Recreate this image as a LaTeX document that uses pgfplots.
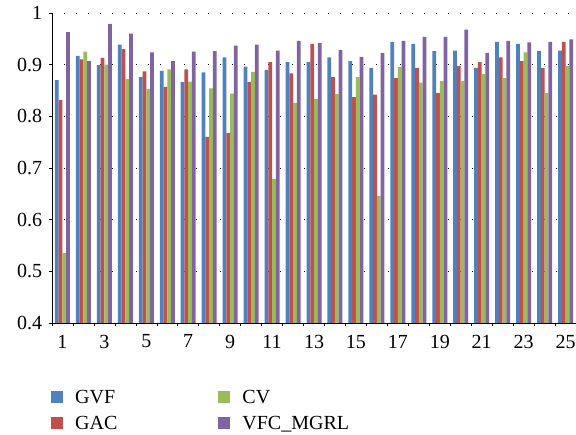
\documentclass[border=0pt]{standalone}
\usepackage{fontspec}
\setmainfont{Liberation Serif}
\usepackage{pgfplots}
\pgfplotsset{compat=1.18}
\definecolor{cgvf}{HTML}{4F81BD}
\definecolor{cgac}{HTML}{C0504D}
\definecolor{ccv}{HTML}{9BBB59}
\definecolor{cvfc}{HTML}{8064A2}
\begin{document}
\fontsize{20}{24}\selectfont
\begin{tikzpicture}
\useasboundingbox (-52pt,-112pt) rectangle (524pt,323pt);
\begin{axis}[
  at={(0pt,0pt)}, anchor=south west,
  scale only axis, width=524pt, height=310pt,
  xmin=0.5, xmax=25.5, ymin=0.4, ymax=1,
  ybar=0pt, bar width=3.75pt,
  axis x line*=bottom, axis y line*=left,
  x axis line style={-}, y axis line style={-},
  axis line style={black, line width=0.8pt},
  ytick={0.4,0.5,0.6,0.7,0.8,0.9,1},
  ymajorgrids,
  grid style={black, line width=0.8pt, dash pattern=on 0.8pt off 11.2pt},
  tick align=outside, major tick length=3pt,
  tick style={black, line width=0.6pt},
  xtick={0.5,1.5,...,25.5}, xticklabels={},
  extra x ticks={1,3,5,7,9,11,13,15,17,19,21,23,25},
  extra x tick labels={1,3,5,7,9,11,13,15,17,19,21,23,25},
  extra x tick style={major tick length=0pt, xticklabel style={yshift=-5pt}},
  /pgf/number format/assume math mode=true,
  legend columns=2, transpose legend,
  legend image code/.code={\fill[#1] (0pt,-5pt) rectangle (12pt,7pt);},
  legend style={at={(0,0)}, anchor=north west, xshift=-1pt, yshift=-64pt,
    draw=none, fill=none, inner sep=0pt, row sep=5pt,
    nodes={inner sep=2pt, text height=14pt, text depth=3pt},
    /tikz/every odd column/.style={column sep=10pt},
    /tikz/every even column/.style={column sep=99pt}},
  legend cell align=left,
]
\addplot[fill=cgvf, draw=none] coordinates {(1,0.870)(2,0.917)(3,0.899)(4,0.939)(5,0.876)(6,0.888)(7,0.866)(8,0.885)(9,0.914)(10,0.896)(11,0.890)(12,0.905)(13,0.905)(14,0.914)(15,0.907)(16,0.894)(17,0.944)(18,0.940)(19,0.926)(20,0.927)(21,0.894)(22,0.944)(23,0.940)(24,0.926)(25,0.927)};
\addplot[fill=cgac, draw=none] coordinates {(1,0.832)(2,0.910)(3,0.913)(4,0.930)(5,0.887)(6,0.857)(7,0.891)(8,0.760)(9,0.768)(10,0.866)(11,0.905)(12,0.883)(13,0.940)(14,0.876)(15,0.837)(16,0.842)(17,0.874)(18,0.894)(19,0.845)(20,0.897)(21,0.905)(22,0.914)(23,0.907)(24,0.894)(25,0.944)};
\addplot[fill=ccv, draw=none] coordinates {(1,0.535)(2,0.925)(3,0.900)(4,0.872)(5,0.853)(6,0.891)(7,0.867)(8,0.854)(9,0.844)(10,0.886)(11,0.679)(12,0.826)(13,0.834)(14,0.843)(15,0.876)(16,0.646)(17,0.895)(18,0.865)(19,0.868)(20,0.868)(21,0.882)(22,0.874)(23,0.924)(24,0.845)(25,0.897)};
\addplot[fill=cvfc, draw=none] coordinates {(1,0.963)(2,0.907)(3,0.979)(4,0.960)(5,0.924)(6,0.907)(7,0.925)(8,0.926)(9,0.937)(10,0.939)(11,0.927)(12,0.946)(13,0.942)(14,0.928)(15,0.915)(16,0.923)(17,0.946)(18,0.954)(19,0.954)(20,0.968)(21,0.923)(22,0.946)(23,0.943)(24,0.944)(25,0.949)};
\legend{GVF,GAC,CV,VFC\_MGRL}
\end{axis}
\end{tikzpicture}
\end{document}
